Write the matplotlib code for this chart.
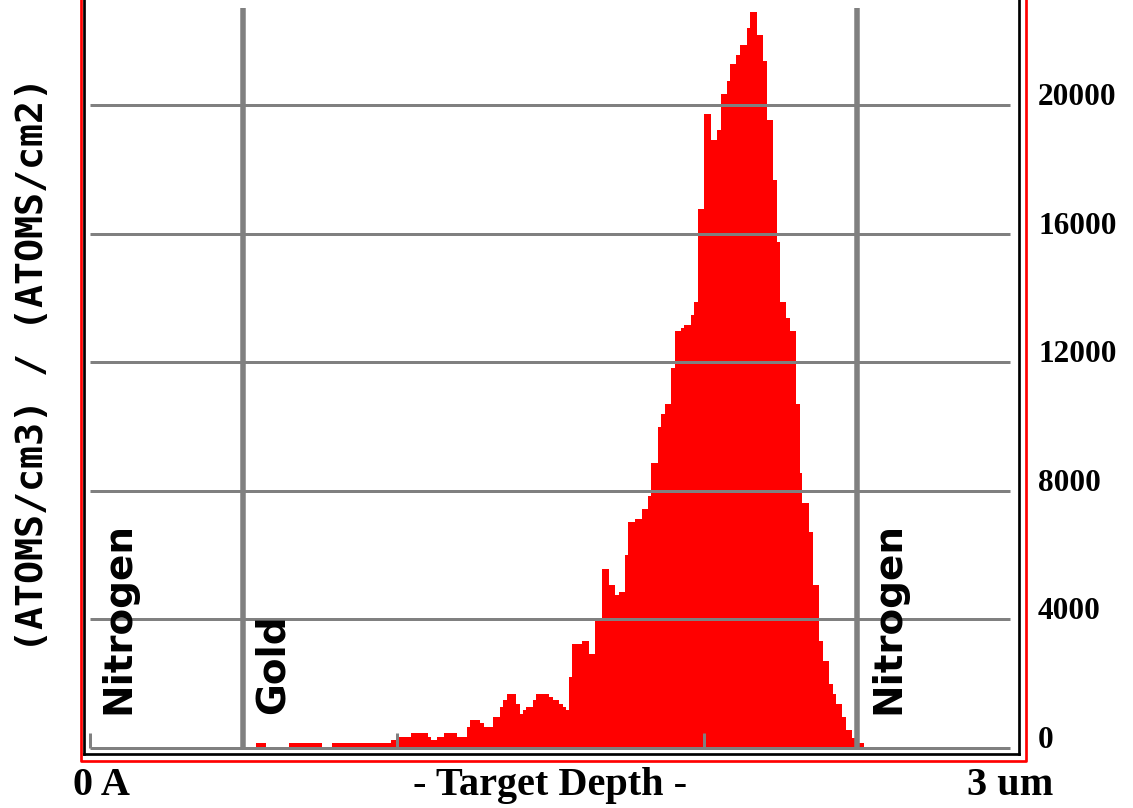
import matplotlib.pyplot as plt
from matplotlib.lines import Line2D

W, H = 1133, 808

# step edges of the histogram (um) and counts per step
depth_edges = [
    0.541, 0.573, 0.648, 0.756, 0.788, 0.980, 1.007, 1.046, 1.101, 1.111,
    1.130, 1.153, 1.195, 1.228, 1.238, 1.270, 1.283, 1.313, 1.336, 1.345,
    1.358, 1.388, 1.401, 1.410, 1.420, 1.443, 1.453, 1.495, 1.508, 1.528,
    1.541, 1.550, 1.560, 1.570, 1.603, 1.625, 1.645, 1.668, 1.691, 1.710,
    1.723, 1.743, 1.752, 1.775, 1.798, 1.818, 1.827, 1.850, 1.860, 1.873,
    1.893, 1.906, 1.925, 1.935, 1.958, 1.967, 1.980, 2.000, 2.023, 2.042,
    2.055, 2.075, 2.085, 2.107, 2.117, 2.140, 2.150, 2.173, 2.192, 2.205,
    2.225, 2.238, 2.248, 2.267, 2.280, 2.300, 2.313, 2.322, 2.342, 2.355,
    2.375, 2.388, 2.407, 2.420, 2.430, 2.450, 2.463, 2.482, 2.505, 2.524,
]
counts = [
    150, 0, 150, 0, 150, 250, 340, 470, 340, 250,
    340, 470, 340, 650, 870, 780, 650, 965, 1280, 1490,
    1680, 1370, 1060, 1180, 1280, 1490, 1680, 1590, 1490, 1370,
    1280, 1180, 2210, 3240, 3330, 2930, 4050, 5570, 5070, 4760,
    4860, 6010, 7030, 7130, 7440, 7840, 8870, 9990, 10400, 10710,
    11830, 12980, 13070, 13170, 13480, 13880, 16780, 19730, 18920, 19240,
    20360, 20760, 21290, 21570, 21880, 22410, 22910, 22190, 21380, 19550,
    17680, 15750, 13880, 13380, 12980, 10710, 8560, 7630, 6720, 5070,
    3330, 2710, 1990, 1680, 1370, 965, 560, 300, 150,
]

y_ticks = [0, 4000, 8000, 12000, 16000, 20000]
grid_values = [4000, 8000, 12000, 16000, 20000]
depth_ticks = [0, 1, 2]
layer_bounds = [0.5, 2.5]
layer_names = ["Nitrogen", "Gold", "Nitrogen"]
layer_label_x = [0.129, 0.632, 2.638]

x_min, x_max = -0.0186, 3.0287
y_min, y_max = -187, 23280

fig = plt.figure(figsize=(W / 100, H / 100), dpi=100)
ax = fig.add_axes([84.3 / W, 1 - 754 / H, (1019.3 - 84.3) / W, 754 / H])
ax.set_xlim(x_min, x_max)
ax.set_ylim(y_min, y_max)

gray = "#808080"
px = 0.72  # points per pixel

ax.stairs(counts, depth_edges, fill=True, color="#ff0000", baseline=0, zorder=1)

# grid / baseline / layer boundaries
ax.hlines(grid_values, 0, 3, colors=gray, linewidth=3 * px, zorder=2)
ax.hlines(0, 0, 3, colors=gray, linewidth=3 * px, zorder=2)
ax.vlines(depth_ticks, 0, 470, colors=gray, linewidth=3 * px, zorder=2)
ax.vlines(layer_bounds, 0, 23030, colors=gray, linewidth=5.5 * px, zorder=2)

for name, xpos in zip(layer_names, layer_label_x):
    ax.text(xpos, 1058, name, rotation=90, rotation_mode="anchor",
            ha="left", va="baseline", fontsize=28, fontweight="bold",
            family="DejaVu Sans", color="black", zorder=3)

# axes frame
for side in ["left", "right", "bottom"]:
    ax.spines[side].set_linewidth(2.7 * px)
    ax.spines[side].set_color("black")
ax.spines["top"].set_visible(False)

ax.set_xticks([])
ax.yaxis.tick_right()
ax.set_yticks(y_ticks)
ax.set_yticklabels([str(v) for v in y_ticks])
ax.tick_params(axis="y", length=0, pad=13.5, labelsize=22.5)
for lab in ax.get_yticklabels():
    lab.set_family("Liberation Serif")
    lab.set_fontweight("bold")
    lab.set_horizontalalignment("left")
    lab.set_verticalalignment("baseline")

# outer red frame
fig.add_artist(Line2D([81.3 / W, 81.3 / W, 1026 / W, 1026 / W],
                      [1.0, 1 - 760.7 / H, 1 - 760.7 / H, 1.0],
                      transform=fig.transFigure, color="#ff0000",
                      linewidth=2.7 * px))

# bottom labels
serif = dict(family="Liberation Serif", fontweight="bold", fontsize=29,
             va="baseline", color="black")
fig.text(73 / W, 1 - 795 / H, "0 A", ha="left", **serif)
fig.text(550 / W, 1 - 795 / H, "- Target Depth -", ha="center", **serif)
fig.text(1053 / W, 1 - 795 / H, "3 um", ha="right", **serif)

fig.text(33.5 / W, 1 - 364.5 / H, "(ATOMS/cm3) / (ATOMS/cm2)", rotation=90,
         ha="center", va="center", family="DejaVu Sans Mono",
         fontweight="bold", fontsize=27.5, color="black")

fig.savefig("out.png", dpi=100)
